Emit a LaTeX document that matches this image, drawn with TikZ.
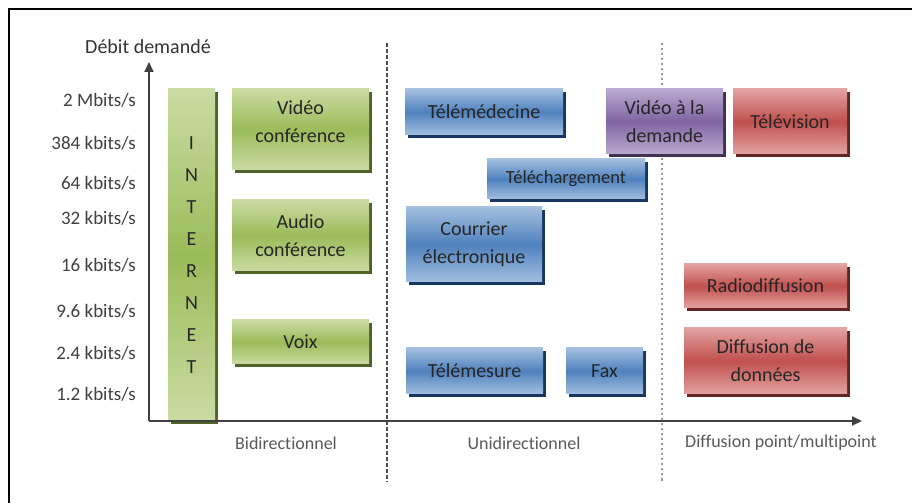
\documentclass[tikz,border=0pt]{standalone}
\usepackage{fontspec}
\setmainfont[Ligatures={TeX,NoCommon}]{Carlito}
\usetikzlibrary{positioning}
\usetikzlibrary{shadows}
\usetikzlibrary{arrows.meta}

\definecolor{vert}{HTML}{9BBB59}
\definecolor{vertclair}{HTML}{C9DCA3}
\definecolor{vertfonce}{HTML}{4F6228}
\definecolor{bleu}{HTML}{4F81BD}
\definecolor{bleuclair}{HTML}{A3BFE0}
\definecolor{bleufonce}{HTML}{17375E}
\definecolor{rouge}{HTML}{C0504D}
\definecolor{rougeclair}{HTML}{E3A3A1}
\definecolor{rougefonce}{HTML}{632523}
\definecolor{violet}{HTML}{8064A2}
\definecolor{violetclair}{HTML}{BAA9CF}
\definecolor{violetfonce}{HTML}{3F3151}

\tikzset{
	bloc/.style={rectangle, inner sep=0pt, outer sep=0pt, align=center,
		font=\fontsize{20}{28}\selectfont, text=black!85},
	dim/.style 2 args={minimum width=#1pt, minimum height=#2pt},
	vertbloc/.style={bloc, top color=vertclair, bottom color=vertclair, middle color=vert,
		drop shadow={shadow xshift=3pt, shadow yshift=-3pt, fill=vertfonce, opacity=1}},
	bleubloc/.style={bloc, top color=bleuclair, bottom color=bleuclair, middle color=bleu,
		drop shadow={shadow xshift=3pt, shadow yshift=-3pt, fill=bleufonce, opacity=1}},
	rougebloc/.style={bloc, top color=rougeclair, bottom color=rougeclair, middle color=rouge,
		drop shadow={shadow xshift=3pt, shadow yshift=-3pt, fill=rougefonce, opacity=1}},
	violetbloc/.style={bloc, top color=violetclair, bottom color=violetclair, middle color=violet,
		drop shadow={shadow xshift=3pt, shadow yshift=-3pt, fill=violetfonce, opacity=1}},
	graduation/.style={anchor=east, inner sep=0pt, font=\fontsize{19}{19}\selectfont, text=black!75},
	categorie/.style={inner sep=0pt, font=\fontsize{18}{18}\selectfont, text=black!65},
	axe/.style={line width=1.8pt, black!75, -{Triangle[length=10pt,width=9pt]}},
	tirets/.style={line width=1.3pt, black!70, dash pattern=on 4pt off 2pt},
	pointilles/.style={line width=2pt, black!40, dash pattern=on 2.5pt off 2.5pt},
}

\begin{document}
\begin{tikzpicture}[x=1pt,y=1pt]
	\useasboundingbox (0,0) rectangle (912,503);
	%% cadre
	\coordinate (c1) at (912,494);
	\coordinate (c2) at (9,494);
	\coordinate (c3) at (9,0);
	\draw[line width=2.2pt] (c1) -- (c2) -- (c3);
	%% axes
	\coordinate (o) at (149,82);
	\coordinate[above = 359 of o] (yfin);
	\coordinate[right = 713 of o] (xfin);
	\node[inner sep=0pt, font=\fontsize{20}{20}\selectfont, text=black!80] (titre) at (148,456) {Débit demandé};
	% separations
	\coordinate (s1h) at (387,460);
	\coordinate (s1b) at (387,21);
	\coordinate (s2h) at (662,460);
	\coordinate (s2b) at (662,21);
	\draw[tirets] (s1h) -- (s1b);
	\draw[pointilles] (s2h) -- (s2b);
	% graduations
	\node[graduation] (g1) at (136,403) {2 Mbits/s};
	\node[graduation] (g2) at (136,360) {384 kbits/s};
	\node[graduation] (g3) at (136,320) {64 kbits/s};
	\node[graduation] (g4) at (136,285) {32 kbits/s};
	\node[graduation] (g5) at (136,238) {16 kbits/s};
	\node[graduation] (g6) at (136,192) {9.6 kbits/s};
	\node[graduation] (g7) at (136,150) {2.4 kbits/s};
	\node[graduation] (g8) at (136,109) {1.2 kbits/s};
	\node[categorie] (bidir) at (286,60) {Bidirectionnel};
	\node[categorie] (unidir) at (524,60) {Unidirectionnel};
	\node[categorie] (diffu) at (781,60) {Diffusion point/multipoint};
	%% bidirectionnel
	\node[vertbloc, dim={47}{332}, font=\fontsize{20}{32}\selectfont, above right = 0 and 19 of o] (internet) {I\\N\\T\\E\\R\\N\\E\\T};
	\node[vertbloc, dim={137}{81}, text depth=16pt, above right = 251 and 83 of o] (visio) {Vidéo\\conférence};
	\node[vertbloc, dim={137}{71}, above right = 150 and 83 of o] (audio) {Audio\\conférence};
	\node[vertbloc, dim={137}{44}, above right = 57 and 83 of o] (voix) {Voix};
	%% unidirectionnel
	\node[bleubloc, dim={158}{46}, above right = 286 and 256 of o] (telemed) {Télémédecine};
	\node[bleubloc, dim={158}{40}, font=\fontsize{18.5}{22}\selectfont, above right = 222 and 338 of o] (telechar) {Téléchargement};
	\node[bleubloc, dim={136}{75}, above right = 139 and 257 of o] (courrier) {Courrier\\électronique};
	\node[bleubloc, dim={137}{46}, above right = 27 and 257 of o] (telemes) {Télémesure};
	\node[bleubloc, dim={77}{46}, above right = 27 and 417 of o] (fax) {Fax};
	%% diffusion
	\node[violetbloc, dim={117}{65}, above right = 267 and 457 of o] (vod) {Vidéo à la\\demande};
	\node[rougebloc, dim={114}{65}, above right = 267 and 584 of o] (tele) {Télévision};
	\node[rougebloc, dim={163}{44}, above right = 113 and 535 of o] (radio) {Radiodiffusion};
	\node[rougebloc, dim={163}{66}, above right = 27 and 535 of o] (diffdon) {Diffusion de\\données};
	% axes par dessus
	\draw[axe] (o) -- (yfin);
	\draw[axe] (o) -- (xfin);
\end{tikzpicture}
\end{document}
